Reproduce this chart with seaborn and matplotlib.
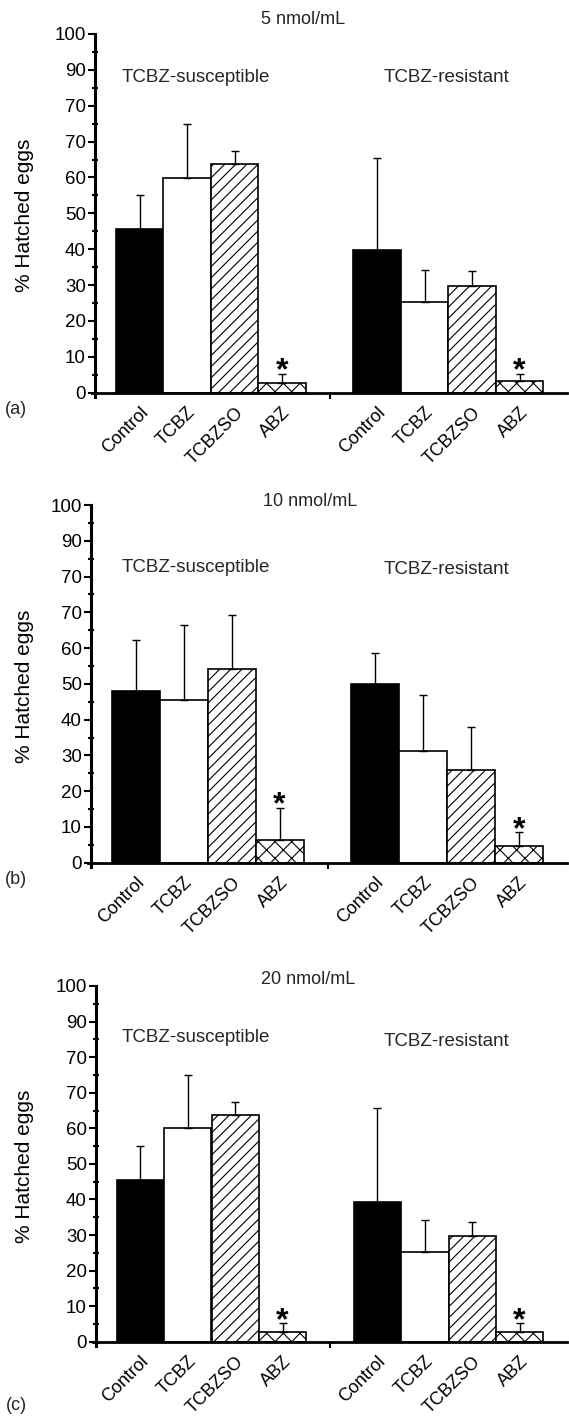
import numpy as np
import pandas as pd
import matplotlib
matplotlib.use("Agg")
import matplotlib.pyplot as plt
from matplotlib.ticker import MultipleLocator
import seaborn as sns

# categories / groups
categories = ["Control", "TCBZ", "TCBZSO", "ABZ"]
groups = ["TCBZ-susceptible", "TCBZ-resistant"]
concentrations = ["5 nmol/mL", "10 nmol/mL", "20 nmol/mL"]
panel_tags = ["(a)", "(b)", "(c)"]
ytick_values = [0, 10, 20, 30, 40, 50, 60, 70, 80, 90, 100]
ytick_labels = ["0", "10", "20", "30", "40", "50", "60", "70", "70", "90", "100"]
significant = [False, False, False, True]

# % hatched eggs (mean) and upper error (SD)
mean_5_sus = [45.5, 59.8, 63.7, 2.6]
sd_5_sus = [9.5, 15.2, 3.6, 2.7]
mean_5_res = [39.8, 25.4, 29.8, 3.2]
sd_5_res = [25.5, 8.9, 4.0, 2.1]

mean_10_sus = [48.0, 45.5, 54.1, 6.4]
sd_10_sus = [14.3, 21.0, 15.1, 9.0]
mean_10_res = [50.0, 31.1, 26.0, 4.6]
sd_10_res = [8.6, 15.7, 12.0, 3.9]

mean_20_sus = [45.5, 60.0, 63.7, 2.6]
sd_20_sus = [9.5, 15.0, 3.7, 2.6]
mean_20_res = [39.4, 25.3, 29.8, 2.7]
sd_20_res = [26.3, 8.9, 3.9, 2.5]

panels = [
    (mean_5_sus, sd_5_sus, mean_5_res, sd_5_res),
    (mean_10_sus, sd_10_sus, mean_10_res, sd_10_res),
    (mean_20_sus, sd_20_sus, mean_20_res, sd_20_res),
]

sns.set_theme(style="ticks")
plt.rcParams["font.family"] = ["Liberation Sans", "DejaVu Sans"]
plt.rcParams["hatch.linewidth"] = 0.8
plt.rcParams["hatch.color"] = "black"

W, H = 569, 1421
fig = plt.figure(figsize=(W / 100, H / 100), dpi=100)

# axes boxes in pixels: left, top (y=100), bottom (y=0)
boxes = [(92, 34, 397), (88, 505, 867), (93, 986, 1346)]
# text positions in pixels
title_xy = [(303, 20), (310, 502), (308, 980)]
sus_xy = [(196, 78), (196, 567), (196, 1038)]
res_xy = [(446, 78), (446, 570), (446, 1042)]
tag_xy = [(16, 409), (16, 879), (16, 1405)]

face = {"Control": "black", "TCBZ": "white", "TCBZSO": "white", "ABZ": "white"}
hatch = {"Control": "", "TCBZ": "", "TCBZSO": "///", "ABZ": "xx"}

for i, (ms, ss, mr, sr) in enumerate(panels):
    left, top, bottom = boxes[i]
    ax = fig.add_axes([left / W, 1 - bottom / H, (567 - left) / W, (bottom - top) / H])

    keys = ["S-" + c for c in categories] + ["R-" + c for c in categories]
    df = pd.DataFrame({"key": keys, "cat": categories * 2,
                       "value": ms + mr, "sd": ss + sr})
    order = keys[:4] + ["gap"] + keys[4:]

    sns.barplot(data=df, x="key", y="value", order=order, errorbar=None,
                color="white", width=1.0, edgecolor="black", linewidth=1.2,
                saturation=1, ax=ax)

    for p in ax.patches:
        idx = int(round(p.get_x() + p.get_width() / 2))
        cat = categories[idx if idx < 4 else idx - 5]
        p.set_facecolor(face[cat])
        p.set_hatch(hatch[cat])
        p.set_edgecolor("black")

    pos = [order.index(k) for k in df["key"]]
    ax.errorbar(pos, df["value"], yerr=[np.zeros(len(df)), df["sd"]], fmt="none",
                ecolor="black", elinewidth=1.0, capsize=3, capthick=1.0, zorder=5)

    for x, (_, row) in zip(pos, df.iterrows()):
        if significant[categories.index(row["cat"])]:
            ax.text(x, row["value"] + row["sd"] - 1.6, "*", ha="center", va="baseline",
                    fontsize=23, fontweight="bold", color="black")

    ax.set_xlim(-1.0, 9.0)
    ax.set_ylim(-1.2, 100)
    ax.spines["top"].set_visible(False)
    ax.spines["right"].set_visible(False)
    ax.spines["bottom"].set_position(("data", 0))
    ax.spines["left"].set_position(("data", -0.94))
    ax.spines["left"].set_linewidth(2.2)
    ax.spines["bottom"].set_linewidth(2.0)
    ax.spines["left"].set_bounds(-1.2, 100)
    ax.spines["left"].set_color("black")
    ax.spines["bottom"].set_color("black")

    ax.set_yticks(ytick_values)
    ax.set_yticklabels(ytick_labels)
    ax.yaxis.set_minor_locator(MultipleLocator(5))
    ax.tick_params(axis="y", which="major", direction="out", length=5, width=1.5,
                   labelsize=13.5, pad=1.5, color="black", labelcolor="black")
    ax.tick_params(axis="y", which="minor", direction="inout", length=4, width=1.5,
                   color="black")

    cat_pos = [order.index(k) for k in keys]
    ax.set_xticks(cat_pos)
    ax.set_xticklabels(categories * 2, rotation=45, ha="right",
                       rotation_mode="anchor", fontsize=13, color="black")
    ax.set_xticks([order.index("gap")], minor=True)
    ax.tick_params(axis="x", which="major", length=0, pad=8)
    ax.tick_params(axis="x", which="minor", direction="out", length=4, width=1.5,
                   color="black")

    ax.set_xlabel("")
    ax.set_ylabel("% Hatched eggs", fontsize=15, color="black")
    ax.yaxis.set_label_coords((34 - left) / (567 - left), 0.5)
    ax.set_facecolor("white")

    fig.text(title_xy[i][0] / W, 1 - title_xy[i][1] / H, concentrations[i],
             ha="center", va="center", fontsize=13)
    fig.text(sus_xy[i][0] / W, 1 - sus_xy[i][1] / H, groups[0],
             ha="center", va="center", fontsize=13.5)
    fig.text(res_xy[i][0] / W, 1 - res_xy[i][1] / H, groups[1],
             ha="center", va="center", fontsize=13.5)
    fig.text(tag_xy[i][0] / W, 1 - tag_xy[i][1] / H, panel_tags[i],
             ha="center", va="center", fontsize=13)

fig.savefig("out.png", dpi=100, facecolor="white")
plt.close(fig)
